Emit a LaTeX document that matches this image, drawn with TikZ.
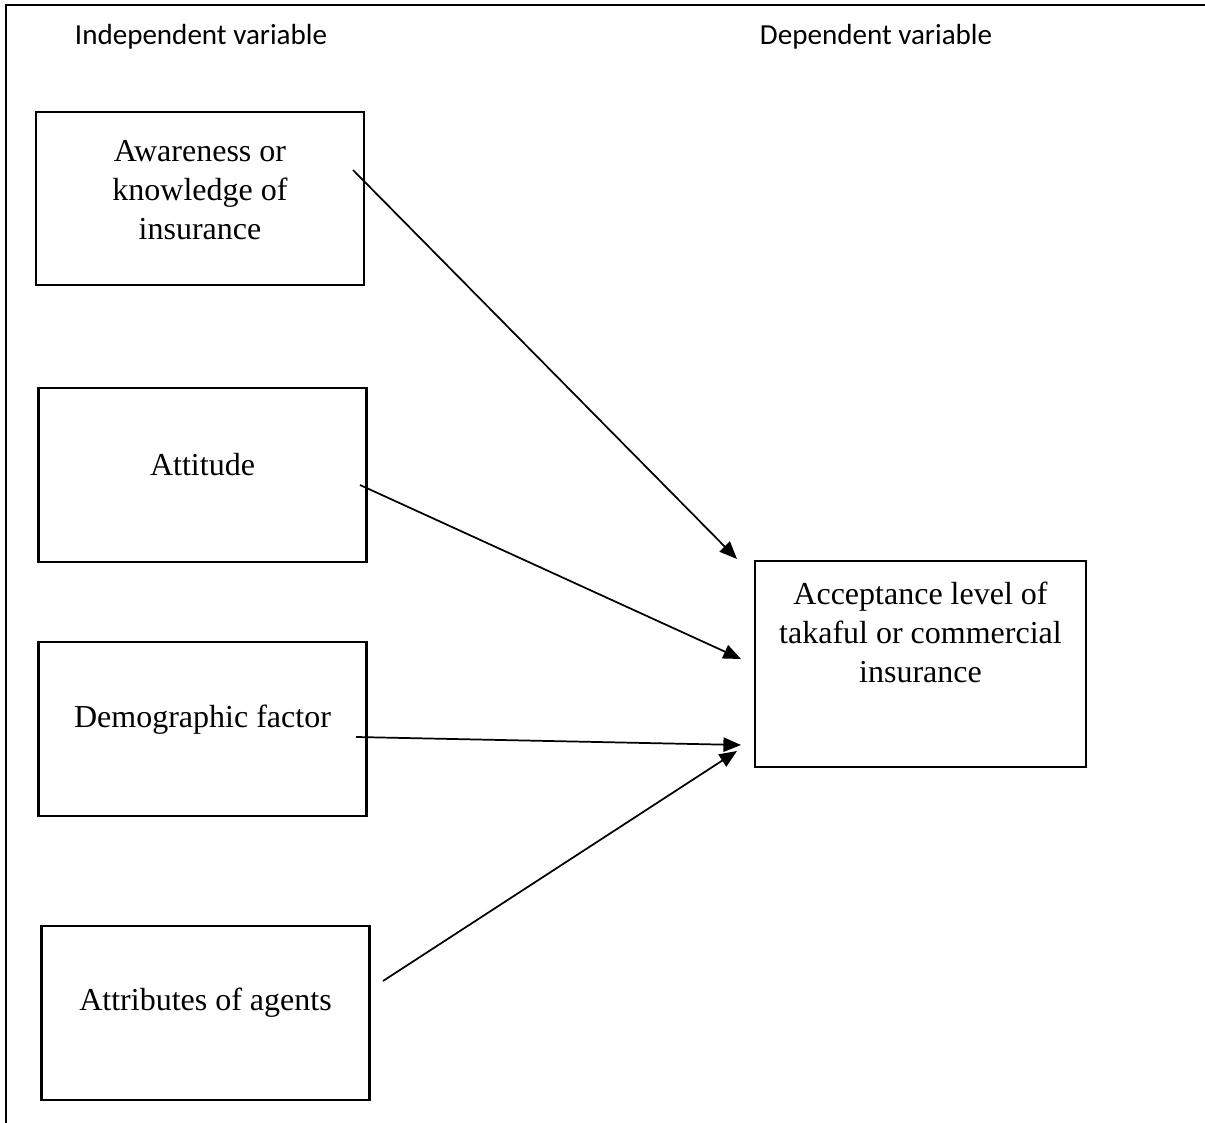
\documentclass[tikz,border=0pt]{standalone}
\usepackage{fontspec}
\setmainfont{Liberation Serif}
\newfontfamily\headfont{Carlito}
\usetikzlibrary{arrows.meta, positioning}
\tikzset{
  varbox/.style={
    draw,
    rectangle,
    line width=0.8pt,
    minimum width=123pt,
    minimum height=65pt,
  },
  boxtext/.style={
    align=center,
    inner sep=0pt,
    font=\fontsize{12}{14.6}\selectfont,
  },
  headtext/.style={
    inner sep=0pt,
    font=\headfont\fontsize{10.9}{12}\selectfont,
  },
  arrow/.style={
    -{Triangle[length=6.6pt,width=5.4pt]},
    line width=0.65pt
  }
}

\begin{document}
\begin{tikzpicture}[x=0.375pt, y=-0.375pt]
\useasboundingbox (0,0) rectangle (1205,1123);

% frame
\coordinate (frameTL) at (6,5);
\coordinate (frameTR) at (1205,5);
\coordinate (frameBL) at (6,1123);
\draw[line width=0.8pt] (frameTR) -- (frameTL) -- (frameBL);

% headings
\node[headtext] (indep) at (201,37) {Independent variable};
\node[headtext] (dep) at (876,37) {Dependent variable};

% independent variables
\node[varbox] (aware) at (200,198.5) {};
\node[boxtext] at (200,190) {Awareness or\\knowledge of\\insurance};

\node[varbox] (attitude) at (202.5,475) {};
\node[boxtext] at (202.5,465) {Attitude};

\node[varbox] (demo) at (202.5,729) {};
\node[boxtext] at (202.5,720) {Demographic factor};

\node[varbox] (agents) at (205.5,1013) {};
\node[boxtext] at (205.5,1003) {Attributes of agents};

% dependent variable
\node[varbox, minimum width=124pt, minimum height=77pt] (accept) at (920.5,664) {};
\node[boxtext] at (920.5,632) {Acceptance level of\\takaful or commercial\\insurance};

% arrows
\coordinate (aware-out) at (353,170);
\coordinate (attitude-out) at (360,485);
\coordinate (demo-out) at (356,737);
\coordinate (agents-out) at (383,981);
\coordinate (accept-in1) at (737,559);
\coordinate (accept-in2) at (741,659);
\coordinate (accept-in3) at (741,745);
\coordinate (accept-in4) at (737,751);

\draw[arrow] (aware-out) -- (accept-in1);
\draw[arrow] (attitude-out) -- (accept-in2);
\draw[arrow] (demo-out) -- (accept-in3);
\draw[arrow] (agents-out) -- (accept-in4);

\end{tikzpicture}
\end{document}
